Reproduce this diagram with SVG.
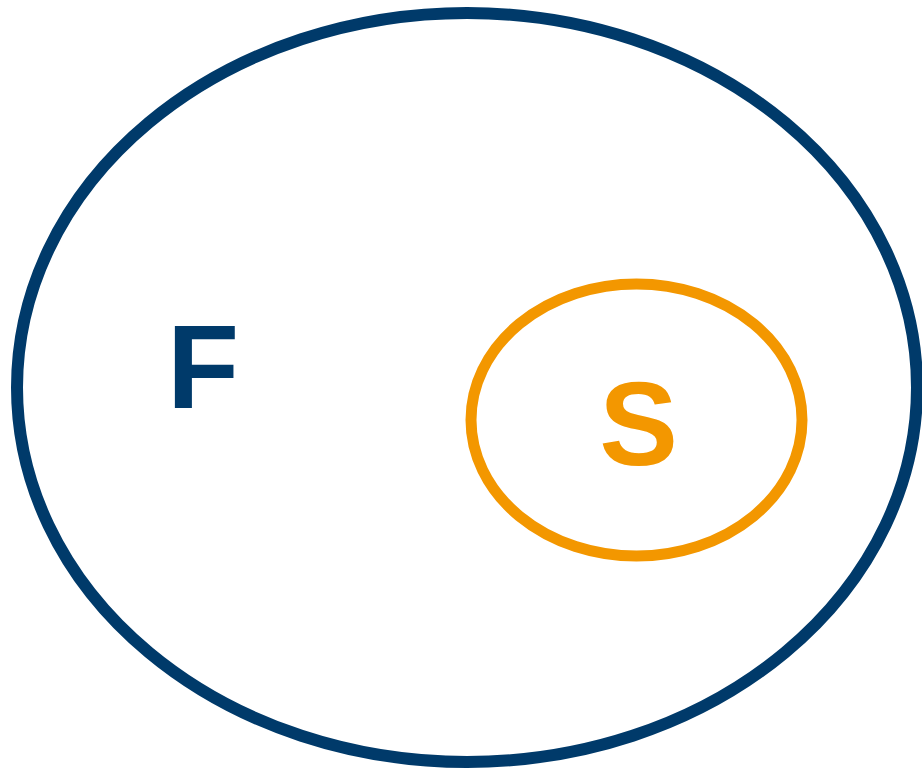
<svg xmlns="http://www.w3.org/2000/svg" width="922" height="769" viewBox="0 0 922 769">
<style>
.lbl{font-family:"Liberation Sans",Arial,sans-serif;font-weight:bold;font-size:118px}
</style>
<rect width="922" height="769" fill="#ffffff"/>
<g id="F">
<ellipse cx="467" cy="387.5" rx="450" ry="374.5" fill="none" stroke="#003a6a" stroke-width="12"/>
<text class="lbl" x="167" y="408" fill="#003a6a">F</text>
</g>
<g id="S">
<ellipse cx="636.5" cy="420" rx="165.5" ry="136" fill="none" stroke="#f39700" stroke-width="11"/>
<text class="lbl" x="638.5" y="465" fill="#f39700" text-anchor="middle">S</text>
</g>
<g id="connectors"/>
</svg>
